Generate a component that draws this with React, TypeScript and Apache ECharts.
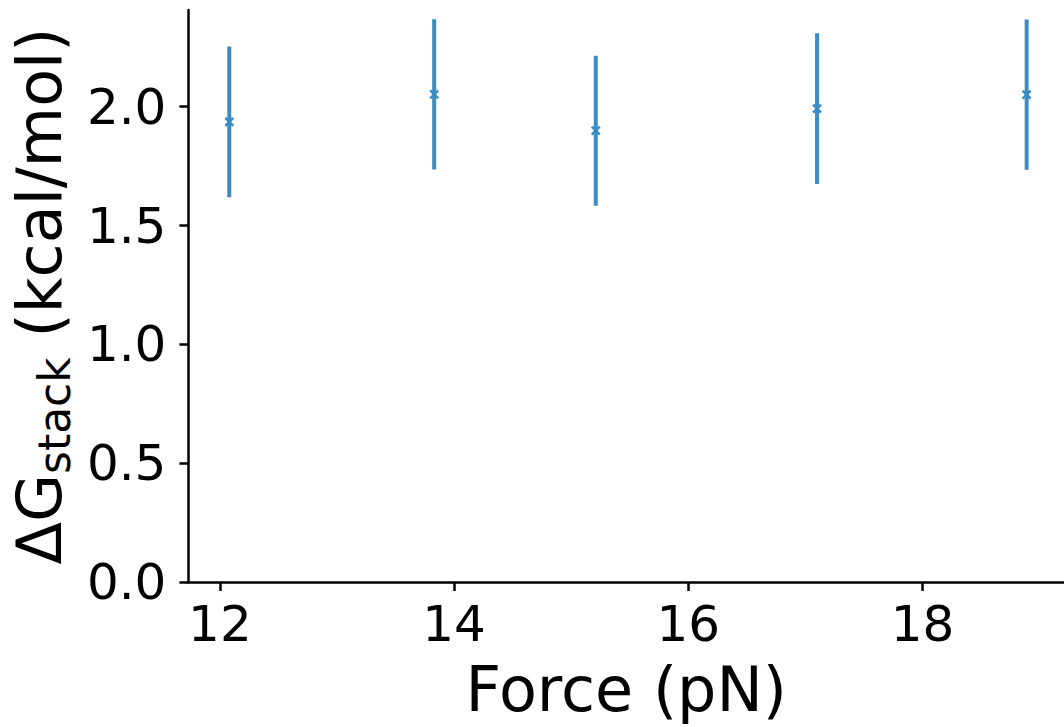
import React, { useEffect, useRef } from "react";
import * as echarts from "echarts";

const forces = [12.08, 13.83, 15.21, 17.1, 18.89];
const deltaG = [1.936, 2.052, 1.899, 1.992, 2.051];
const errors = [0.317, 0.316, 0.316, 0.317, 0.316];
const xTicks = [12, 14, 16, 18];
const yTicks = [0, 0.5, 1.0, 1.5, 2.0];

const COLOR = "#3a8cc4";
const FONT = "DejaVu Sans";

export default function App() {
  const ref = useRef<HTMLDivElement>(null);
  useEffect(() => {
    document.body.style.margin = "0";
    const chart = echarts.init(ref.current!, undefined, { renderer: "svg" });
    const data = forces.map((f, i) => [f, deltaG[i], errors[i]]);
    chart.setOption({
      animation: false,
      backgroundColor: "#ffffff",
      grid: { left: 188, top: 10, right: 0, bottom: 145, containLabel: false },
      xAxis: {
        type: "value",
        min: 11.731,
        max: 19.209,
        name: "Force (pN)",
        nameLocation: "middle",
        nameGap: 76,
        nameTextStyle: { fontFamily: FONT, fontSize: 62, color: "#000" },
        axisLine: { show: true, onZero: false, lineStyle: { color: "#000", width: 2.5 } },
        axisTick: { show: true, customValues: xTicks, length: 9, lineStyle: { color: "#000", width: 2.5 } },
        axisLabel: {
          customValues: xTicks,
          margin: 17,
          fontFamily: FONT,
          fontSize: 50,
          color: "#000",
          formatter: (v: number) => String(Math.round(v)),
        },
        splitLine: { show: false },
      },
      yAxis: {
        type: "value",
        min: 0,
        max: 2.407,
        name: "{m|ΔG}{s|stack}{m| (kcal/mol)}",
        nameLocation: "middle",
        nameRotate: 90,
        nameGap: 112,
        nameTextStyle: {
          color: "#000",
          rich: {
            m: { fontFamily: FONT, fontSize: 62, color: "#000" },
            s: { fontFamily: FONT, fontSize: 44, color: "#000", padding: [30, 0, 0, 0] },
          },
        },
        axisLine: { show: true, lineStyle: { color: "#000", width: 2.5 } },
        axisTick: { show: true, customValues: yTicks, length: 9, lineStyle: { color: "#000", width: 2.5 } },
        axisLabel: {
          customValues: yTicks,
          margin: 22,
          fontFamily: FONT,
          fontSize: 50,
          color: "#000",
          formatter: (v: number) => v.toFixed(1),
        },
        splitLine: { show: false },
      },
      series: [
        {
          type: "custom",
          data,
          clip: false,
          renderItem: (params: any, api: any) => {
            const x = api.value(0);
            const y = api.value(1);
            const e = api.value(2);
            const top = api.coord([x, y + e]);
            const bot = api.coord([x, y - e]);
            const c = api.coord([x, y]);
            const m = 4;
            const st = { stroke: COLOR, lineWidth: 4 };
            const ms = { stroke: COLOR, lineWidth: 2.5 };
            return {
              type: "group",
              children: [
                { type: "line", shape: { x1: top[0], y1: top[1], x2: bot[0], y2: bot[1] }, style: st },
                { type: "line", shape: { x1: c[0] - m, y1: c[1] - m, x2: c[0] + m, y2: c[1] + m }, style: ms },
                { type: "line", shape: { x1: c[0] - m, y1: c[1] + m, x2: c[0] + m, y2: c[1] - m }, style: ms },
              ],
            };
          },
        },
      ],
    });
    return () => chart.dispose();
  }, []);
  return <div ref={ref} style={{ width: 1064, height: 727 }} />;
}
